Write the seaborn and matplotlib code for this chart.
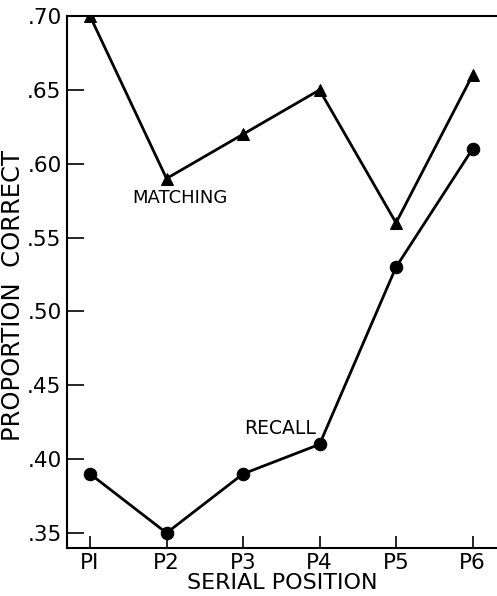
import pandas as pd
import numpy as np
import matplotlib
matplotlib.use('Agg')
import matplotlib.pyplot as plt
import seaborn as sns

# ============================================================
# DATA — proportion correct by serial position
# ============================================================

positions = ['P1', 'P2', 'P3', 'P4', 'P5', 'P6']
tick_labels = ['PI', 'P2', 'P3', 'P4', 'P5', 'P6']
matching = [0.70, 0.59, 0.62, 0.65, 0.56, 0.66]
recall = [0.39, 0.35, 0.39, 0.41, 0.53, 0.61]
y_ticks = [0.35, 0.40, 0.45, 0.50, 0.55, 0.60, 0.65, 0.70]
y_tick_labels = ['.35', '.40', '.45', '.50', '.55', '.60', '.65', '.70']

df = pd.DataFrame({
    'pos': list(range(len(positions))) * 2,
    'prop': matching + recall,
    'task': ['MATCHING'] * len(positions) + ['RECALL'] * len(positions),
})

# ============================================================
# PLOT
# ============================================================

sns.set_style('ticks')
plt.rcParams['font.family'] = ['DejaVu Sans']
plt.rcParams['text.color'] = 'black'
plt.rcParams['axes.labelcolor'] = 'black'

fig = plt.figure(figsize=(4.97, 5.96), dpi=100)
ax = fig.add_axes([0.135, 0.081, 0.865, 0.892])

sns.lineplot(data=df, x='pos', y='prop', hue='task', style='task',
             markers={'MATCHING': '^', 'RECALL': 'o'}, dashes=False,
             palette={'MATCHING': 'black', 'RECALL': 'black'},
             markersize=9, markeredgecolor='black', linewidth=2,
             legend=False, ax=ax)

ax.set_xlim(-0.3, 5.32)
ax.set_ylim(0.34, 0.70)
ax.set_xticks(range(len(positions)))
ax.set_xticklabels(tick_labels)
ax.set_yticks(y_ticks)
ax.set_yticklabels(y_tick_labels)
ax.tick_params(direction='in', length=12, width=1.2, labelsize=15.5,
               colors='black', pad=4, left=True, bottom=True)
ax.tick_params(axis='x', length=9)

for side in ['left', 'bottom', 'top']:
    ax.spines[side].set_visible(True)
    ax.spines[side].set_color('black')
    ax.spines[side].set_linewidth(1.5)
ax.spines['right'].set_visible(False)

ax.set_xlabel('SERIAL POSITION', fontsize=16, labelpad=0)
ax.set_ylabel('PROPORTION  CORRECT', fontsize=17.5)
ax.yaxis.set_label_coords(-0.098, 0.475)

ax.text(1.17, 0.577, 'MATCHING', fontsize=13, ha='center', va='center')
ax.text(2.48, 0.421, 'RECALL', fontsize=13.5, ha='center', va='center')

plt.savefig('out.png', dpi=100, facecolor='white')
